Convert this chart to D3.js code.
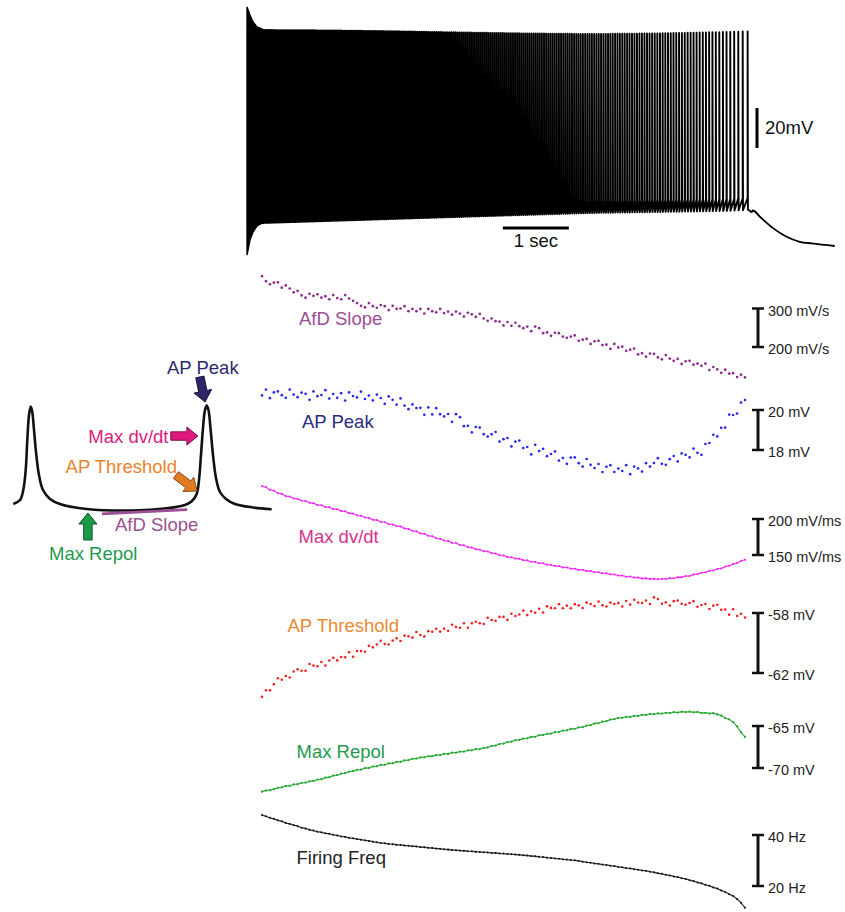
<!DOCTYPE html>
<html><head><meta charset="utf-8">
<script src="https://cdn.jsdelivr.net/npm/d3@7"></script>
<style>body{margin:0;background:#fff}svg{display:block;font-family:"Liberation Sans",Arial,Helvetica,sans-serif}</style>
</head><body><svg id="c" width="845" height="912"></svg>
<script>
// ---------- DATA ----------
const sampleStep = 0.06; // s between samples of the spike train

const afdSlope = [ // mV/s
384,371,363,367,368,354,360,352,342,346,
334,328,338,333,337,328,332,324,335,327,
324,335,326,320,314,307,303,314,306,302,
309,306,296,307,299,300,306,293,299,293,
299,287,299,293,290,299,288,292,284,292,
287,279,289,285,278,286,274,268,274,267,
266,256,265,255,263,254,249,253,241,253,
249,236,238,229,237,236,227,224,227,230,
216,219,221,208,215,216,205,206,195,208,
199,201,190,193,196,181,184,175,183,182,
173,168,179,170,164,169,156,163,164,154,
157,151,157,140,148,142,133,141,131,132,
122,128,121];

const apPeak = [ // mV
20.73,21.02,20.59,20.88,20.93,20.74,20.61,21.02,20.77,20.64,
20.87,20.81,20.51,20.93,20.69,20.75,20.99,20.57,20.8,20.61,
20.84,20.47,20.88,20.7,20.63,20.92,20.55,20.72,20.48,20.77,
20.6,20.31,20.68,20.51,20.27,20.58,20.22,20.04,20.28,20.1,
20.11,19.76,20.13,19.78,20.09,19.79,19.68,19.8,19.41,19.79,
19.64,19.19,19.21,18.88,19.15,19.12,18.79,18.67,18.79,18.9,
18.42,18.54,18.6,18.18,18.42,18.47,18.1,18.15,17.78,18.26,
17.95,18.06,17.69,17.8,17.93,17.47,17.6,17.31,17.62,17.63,
17.34,17.17,17.55,17.26,17.1,17.3,16.9,17.16,17.24,16.9,
17.07,16.95,17.24,16.79,17.17,17.08,16.92,17.34,17.17,17.35,
17.59,17.31,17.26,17.54,17.7,17.43,17.83,17.76,17.63,18.07,
17.86,17.76,18.3,18.35,18.76,18.68,19.11,19.12,19.77,19.75,
19.82,20.37,20.5];

const maxDvdt = [ // mV/ms
245.8,244.2,240.6,239.5,236.1,234.8,231.7,231.2,228.6,227.9,
225.4,225.1,222.6,221.9,219.3,219.2,216.6,216.4,213.8,213.6,
211.1,210.7,208.0,207.5,204.9,204.6,202.1,201.5,198.8,198.6,
196.0,195.6,192.8,192.4,190.1,189.6,186.8,186.2,183.5,182.9,
180.0,179.4,176.7,176.1,173.2,172.7,170.1,169.5,166.9,166.4,
164.0,163.5,160.9,160.4,158.0,157.6,155.2,154.9,152.5,152.0,
149.7,149.4,147.2,147.0,145.0,144.8,142.8,142.6,140.6,140.4,
138.5,138.4,136.6,136.4,134.7,134.6,132.8,132.8,131.0,131.0,
129.3,129.4,127.8,127.8,126.1,126.2,124.6,124.6,123.0,123.0,
121.4,121.4,119.9,120.0,118.6,118.8,117.4,117.7,116.5,117.0,
116.2,117.1,116.6,117.9,117.6,119.1,119.1,120.8,121.0,122.9,
123.3,125.4,125.9,128.0,128.5,130.7,131.4,133.9,134.9,137.6,
138.8,141.7,143.5];

const apThreshold = [ // mV
-63.58,-63.15,-63.15,-62.75,-62.35,-62.45,-62.2,-62.3,-61.9,-61.75,
-61.85,-61.85,-61.4,-61.5,-61.55,-61.27,-61.5,-61.17,-60.99,-61.16,
-60.93,-60.95,-60.62,-60.92,-60.53,-60.53,-60.58,-60.19,-60.29,-60.1,
-59.85,-60.07,-60.1,-59.84,-59.68,-59.87,-59.51,-59.55,-59.64,-59.27,
-59.47,-59.56,-59.21,-59.25,-59.05,-59.24,-59.04,-59.18,-58.78,-58.93,
-58.98,-58.68,-58.98,-58.68,-58.58,-58.68,-58.73,-58.32,-58.47,-58.52,
-58.26,-58.26,-58.46,-58.05,-58.2,-58.1,-57.84,-58.14,-57.88,-57.98,
-57.72,-57.97,-57.56,-57.66,-57.68,-57.41,-57.68,-57.51,-57.69,-57.41,
-57.49,-57.67,-57.31,-57.4,-57.54,-57.24,-57.48,-57.57,-57.31,-57.4,
-57.34,-57.57,-57.2,-57.44,-57.12,-57.3,-57.33,-57.17,-57.4,-56.96,
-57.07,-57.38,-57.29,-57.5,-57.21,-57.17,-57.38,-57.45,-57.33,-57.21,
-57.59,-57.47,-57.4,-57.73,-57.51,-57.45,-57.78,-57.77,-58.11,-57.75,
-58.2,-58.05,-58.3];

const maxRepol = [ // mV
-72.82,-72.68,-72.64,-72.52,-72.35,-72.3,-72.14,-72.12,-71.95,-71.92,
-71.76,-71.74,-71.58,-71.55,-71.38,-71.33,-71.14,-71.1,-70.9,-70.86,
-70.66,-70.62,-70.42,-70.38,-70.22,-70.2,-70.02,-70.0,-69.82,-69.8,
-69.63,-69.62,-69.46,-69.44,-69.27,-69.26,-69.08,-69.06,-68.9,-68.88,
-68.74,-68.74,-68.6,-68.6,-68.46,-68.46,-68.32,-68.32,-68.18,-68.18,
-68.04,-68.04,-67.9,-67.9,-67.75,-67.75,-67.6,-67.56,-67.38,-67.33,
-67.14,-67.1,-66.91,-66.87,-66.68,-66.66,-66.5,-66.47,-66.3,-66.28,
-66.1,-66.08,-65.92,-65.9,-65.72,-65.71,-65.54,-65.52,-65.35,-65.33,
-65.16,-65.14,-64.95,-64.9,-64.7,-64.67,-64.48,-64.43,-64.24,-64.19,
-64.03,-64.03,-63.91,-63.92,-63.79,-63.8,-63.67,-63.68,-63.55,-63.58,
-63.49,-63.52,-63.42,-63.46,-63.36,-63.4,-63.29,-63.34,-63.28,-63.37,
-63.31,-63.45,-63.42,-63.51,-63.47,-63.62,-63.77,-64.05,-64.2,-64.54,
-65.05,-65.75,-66.3];

const firingFreq = [ // Hz
47.8,47.35,46.75,46.35,45.75,45.35,44.75,44.35,43.85,43.45,
42.85,42.55,42.05,41.75,41.3,41.05,40.65,40.45,40.05,39.85,
39.45,39.25,38.9,38.7,38.42,38.18,37.9,37.66,37.38,37.12,
36.9,36.72,36.48,36.4,36.18,36.1,35.88,35.8,35.58,35.5,
35.28,35.2,34.98,34.9,34.68,34.6,34.4,34.32,34.12,34.05,
33.88,33.82,33.65,33.6,33.43,33.38,33.2,33.16,32.98,32.94,
32.76,32.72,32.54,32.5,32.32,32.25,32.04,31.96,31.74,31.66,
31.44,31.34,31.12,31.02,30.8,30.7,30.48,30.38,30.16,30.06,
29.84,29.55,29.3,29.14,28.86,28.7,28.42,28.25,27.96,27.8,
27.5,27.34,27.04,26.88,26.58,26.42,26.1,25.94,25.6,25.38,
25.0,24.76,24.38,24.14,23.74,23.5,23.06,22.76,22.28,21.94,
21.42,21.04,20.48,20.06,19.46,18.98,18.26,17.64,16.8,16.1,
14.95,13.4,11.5];

// raw voltage trace envelope (read from the recording)
const traceEnvT      = [0, 1, 2, 3, 4, 5, 6, 7, 7.36];            // s
const tracePeakMV    = [21, 20.8, 20.4, 19.8, 19.3, 19.0, 19.3, 20.0, 20.3];
const traceTroughMV  = [-75.5, -74.5, -73.5, -72.5, -71.5, -70.5, -70, -69.5, -69];
const traceThreshMV  = [-69.5, -68.5, -67.5, -66.5, -65.5, -64.5, -64, -63.5, -63];
const onsetT         = [-0.227, -0.182, -0.136, -0.076, 0];
const onsetTopMV     = [32.5, 28.5, 25, 22.5, 21.5];
const onsetBottomMV  = [-91.5, -84, -80, -77, -75.5];
const offsetT        = [7.37, 7.42, 7.44, 7.55, 7.75, 7.95, 8.15, 8.33, 8.68];
const offsetMV       = [-69, -70, -69.25, -72.5, -78.2, -82.4, -84.9, -85.7, -87];

// example AP waveform (inset), ms / mV
const insetT = [0.08,1.76,2.58,3.19,3.59,4.02,4.44,4.84,5.27,5.85,6.52,7.53,9.28,11.79,18.49,30.11,38.57,43.16,44.92,46.10,46.68,47.18,47.68,48.18,48.61,49.06,49.56,50.19,50.94,51.94,53.45,55.71,60.23,64.92];
const insetV = [-64.8,-61.4,-52.8,-35.5,-9.7,11.8,19.0,14.4,-1.1,-22.6,-39.9,-52.8,-60.5,-64.8,-69.1,-70.4,-68.5,-65.7,-62.2,-56.2,-44.2,-22.6,0.6,16.1,20.0,16.1,0.6,-22.6,-42.4,-54.5,-60.5,-64.8,-67.8,-69.4];

// ---------- DRAW ----------
const svg = d3.select("#c");
const FONT = 18.5;
const x = d3.scaleLinear().domain([0, 7.32]).range([262, 745]);
const sampleT = afdSlope.map((_, i) => i * sampleStep);

// top raw trace
const ty = d3.scaleLinear().domain([-80, 20]).range([232, 32]);
const pk = d3.scaleLinear().domain(traceEnvT).range(tracePeakMV);
const tr = d3.scaleLinear().domain(traceEnvT).range(traceTroughMV);
const th = d3.scaleLinear().domain(traceEnvT).range(traceThreshMV);

const onset = onsetT.map((t, i) => ({t, top: onsetTopMV[i], bot: onsetBottomMV[i]}));
svg.append("path")
  .attr("d", d3.area().x(d => x(d.t)).y0(d => ty(d.bot)).y1(d => ty(d.top))(onset))
  .attr("fill", "#000").attr("stroke", "#000").attr("stroke-width", 1.4);

const spikeT = [];
let tt = 0;
while (tt <= 7.36) {
  spikeT.push(tt);
  const i = Math.max(0, Math.min(firingFreq.length - 1, Math.round(tt / sampleStep)));
  tt += 1 / firingFreq[i];
}
const p = d3.path();
p.moveTo(x(0), ty(th(0)));
spikeT.forEach(s => {
  const xs = x(s);
  p.lineTo(xs, ty(th(s)));
  p.lineTo(xs, ty(pk(s)));
  p.lineTo(xs + 0.3, ty(tr(s)));
});
svg.append("path").attr("d", p.toString()).attr("fill", "none")
  .attr("stroke", "#000").attr("stroke-width", 1.9).attr("stroke-linejoin", "round");

const lastT = spikeT[spikeT.length - 1];
const tail = [{t: lastT, v: tr(lastT)}].concat(offsetT.map((t, i) => ({t, v: offsetMV[i]})));
svg.append("path").attr("d", d3.line().x(d => x(d.t)).y(d => ty(d.v)).curve(d3.curveMonotoneX)(tail))
  .attr("fill", "none").attr("stroke", "#000").attr("stroke-width", 1.8);

// trace scale bars
svg.append("line").attr("x1", 757).attr("x2", 757).attr("y1", ty(-38)).attr("y2", ty(-18))
  .attr("stroke", "#000").attr("stroke-width", 3);
svg.append("text").attr("x", 765).attr("y", ty(-28)).attr("dy", "0.35em")
  .attr("font-size", FONT).attr("fill", "#111").text("20mV");
svg.append("line").attr("x1", x(3.65)).attr("x2", x(4.65)).attr("y1", 228).attr("y2", 228)
  .attr("stroke", "#000").attr("stroke-width", 3);
svg.append("text").attr("x", x(4.15)).attr("y", 247).attr("text-anchor", "middle")
  .attr("font-size", FONT).attr("fill", "#111").text("1 sec");

// measurement panels
const panels = [
  {name: "AfD Slope", values: afdSlope, dom: [200, 300], rng: [347, 308.5], color: "#8b2a8f", lab: "#9b4d94", lx: 299, ly: 325, line: false, r: 1.35, bar: ["300 mV/s", "200 mV/s"]},
  {name: "AP Peak", values: apPeak, dom: [18, 20], rng: [450, 410], color: "#2a2ae6", lab: "#2b2d80", lx: 302, ly: 427.5, line: false, r: 1.35, bar: ["20 mV", "18 mV"]},
  {name: "Max dv/dt", values: maxDvdt, dom: [150, 200], rng: [555, 519], color: "#ee22ee", lab: "#d4338c", lx: 298.5, ly: 543, line: true, lw: 1.3, r: 1.0, bar: ["200 mV/ms", "150 mV/ms"]},
  {name: "AP Threshold", values: apThreshold, dom: [-62, -58], rng: [673, 613], color: "#ee2020", lab: "#ea8a32", lx: 287.5, ly: 632, line: false, r: 1.3, bar: ["-58 mV", "-62 mV"]},
  {name: "Max Repol", values: maxRepol, dom: [-70, -65], rng: [768, 726], color: "#20a52a", lab: "#1f9a50", lx: 296.5, ly: 757.5, line: true, lw: 1.3, r: 1.1, bar: ["-65 mV", "-70 mV"]},
  {name: "Firing Freq", values: firingFreq, dom: [20, 40], rng: [886, 835], color: "#111", lab: "#222", lx: 296.5, ly: 863.5, line: true, lw: 1.3, r: 1.0, bar: ["40 Hz", "20 Hz"]}
];

panels.forEach(pn => {
  const y = d3.scaleLinear().domain(pn.dom).range(pn.rng);
  const g = svg.append("g");
  if (pn.line) {
    g.append("path").attr("d", d3.line().x((d, i) => x(sampleT[i])).y(d => y(d))(pn.values))
      .attr("fill", "none").attr("stroke", pn.color).attr("stroke-width", pn.lw).attr("opacity", 0.85);
  }
  g.selectAll("circle").data(pn.values).join("circle")
    .attr("cx", (d, i) => x(sampleT[i])).attr("cy", d => y(d)).attr("r", pn.r).attr("fill", pn.color);
  g.append("text").attr("x", pn.lx).attr("y", pn.ly).attr("font-size", FONT).attr("fill", pn.lab).text(pn.name);
  const bx = 758, yt = y(pn.dom[1]), yb = y(pn.dom[0]);
  g.append("line").attr("x1", bx).attr("x2", bx).attr("y1", yt).attr("y2", yb).attr("stroke", "#111").attr("stroke-width", 3);
  [yt, yb].forEach(yy => g.append("line").attr("x1", bx - 6).attr("x2", bx + 6).attr("y1", yy).attr("y2", yy)
    .attr("stroke", "#111").attr("stroke-width", 2.5));
  g.append("text").attr("x", 768).attr("y", yt + 2).attr("dy", "0.35em").attr("font-size", 14.5).attr("fill", "#222").text(pn.bar[0]);
  g.append("text").attr("x", 768).attr("y", yb + 2).attr("dy", "0.35em").attr("font-size", 14.5).attr("fill", "#222").text(pn.bar[1]);
});

// ---------- inset AP schematic ----------
const ix = d3.scaleLinear().domain([0, 65]).range([13, 272]);
const iy = d3.scaleLinear().domain([-70, 20]).range([510, 405.5]);
svg.append("path")
  .attr("d", d3.line().x((d, i) => ix(insetT[i])).y(d => iy(d)).curve(d3.curveCatmullRom.alpha(0.5))(insetV))
  .attr("fill", "none").attr("stroke", "#111").attr("stroke-width", 2.6).attr("stroke-linejoin", "round");

svg.append("line").attr("x1", ix(22.3)).attr("y1", iy(-73.4)).attr("x2", ix(43.7)).attr("y2", iy(-69.6))
  .attr("stroke", "#9b4f96").attr("stroke-width", 2.8);

function arrow(t1, v1, t2, v2, fill, stroke) {
  const x1 = ix(t1), y1 = iy(v1), x2 = ix(t2), y2 = iy(v2);
  const dx = x2 - x1, dy = y2 - y1, L = Math.hypot(dx, dy);
  const ux = dx / L, uy = dy / L, nx = -uy, ny = ux;
  const sw = 4.2, hw = 9, hl = 11;
  const bx = x2 - ux * hl, by = y2 - uy * hl;
  const pts = [
    [x1 + nx * sw, y1 + ny * sw], [bx + nx * sw, by + ny * sw], [bx + nx * hw, by + ny * hw], [x2, y2],
    [bx - nx * hw, by - ny * hw], [bx - nx * sw, by - ny * sw], [x1 - nx * sw, y1 - ny * sw]];
  svg.append("polygon").attr("points", pts.map(q => q.join(",")).join(" "))
    .attr("fill", fill).attr("stroke", stroke).attr("stroke-width", 1).attr("stroke-linejoin", "miter");
}
arrow(46.9, 44.6, 48.2, 23.0, "#2e2468", "#1b1540");     // AP Peak
arrow(39.6, -6.3, 46.4, -6.3, "#e0177c", "#7a1045");     // Max dv/dt
arrow(40.9, -39.9, 46.2, -53.6, "#e27a22", "#8a4a16");   // AP Threshold
arrow(18.8, -95.8, 18.8, -72.6, "#1c9a48", "#10502a");   // Max Repol

const insetLabels = [
  {text: "AP Peak", x: 167, y: 374, anchor: "start", color: "#2e2a70"},
  {text: "Max dv/dt", x: 168.5, y: 443, anchor: "end", color: "#d6217f"},
  {text: "AP Threshold", x: 177, y: 473, anchor: "end", color: "#e8842c"},
  {text: "AfD Slope", x: 115, y: 530.5, anchor: "start", color: "#9a4f8e"},
  {text: "Max Repol", x: 49, y: 560, anchor: "start", color: "#1e9a4e"}
];
insetLabels.forEach(l => svg.append("text").attr("x", l.x).attr("y", l.y).attr("text-anchor", l.anchor)
  .attr("font-size", FONT).attr("fill", l.color).text(l.text));
</script></body></html>
